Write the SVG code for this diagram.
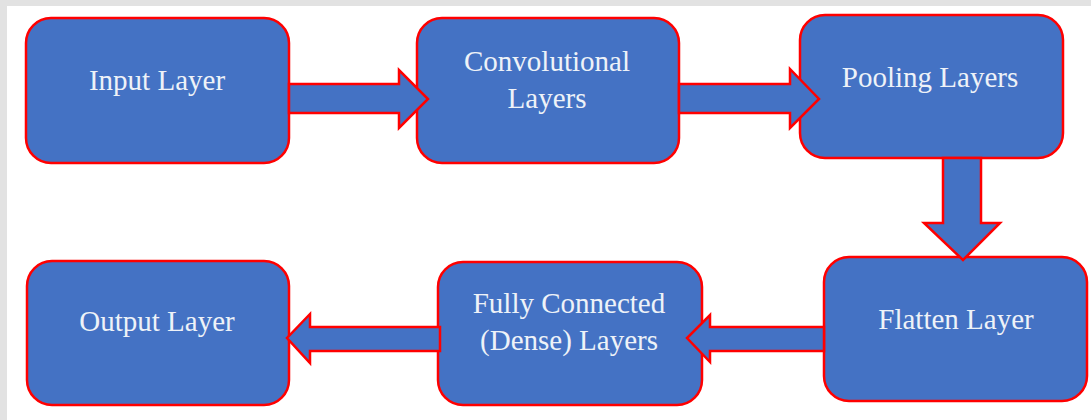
<svg xmlns="http://www.w3.org/2000/svg" width="1091" height="420" viewBox="0 0 1091 420">
<style>
.box{fill:#4472C4;stroke:#FF0000;stroke-width:2.5}
.arr{fill:#4472C4;stroke:#FF0000;stroke-width:2.5;stroke-linejoin:miter}
.lbl{font-family:"Liberation Serif","Times New Roman",serif;font-size:29px;fill:#EEF2F8;text-anchor:middle}
</style>
<rect x="0" y="0" width="1091" height="420" fill="#ffffff"/>
<rect x="0" y="0" width="1091" height="6" fill="#e2e2e2"/>
<rect x="0" y="0" width="7" height="420" fill="#e2e2e2"/>
<g id="input-layer">
<rect class="box" x="26" y="18" width="263" height="145" rx="25"/>
<text class="lbl" x="157" y="90">Input Layer</text>
</g>
<g id="conv-layers">
<rect class="box" x="417" y="18" width="262" height="145" rx="25"/>
<text class="lbl" x="547" y="71">Convolutional</text>
<text class="lbl" x="547" y="108">Layers</text>
</g>
<g id="pooling-layers">
<rect class="box" x="800" y="15" width="263" height="143" rx="25"/>
<text class="lbl" x="930" y="87">Pooling Layers</text>
</g>
<g id="flatten-layer">
<rect class="box" x="824" y="257" width="263" height="144" rx="25"/>
<text class="lbl" x="956" y="329">Flatten Layer</text>
</g>
<g id="dense-layers">
<rect class="box" x="438" y="262" width="264" height="143" rx="25"/>
<text class="lbl" x="569" y="313">Fully Connected</text>
<text class="lbl" x="569" y="350">(Dense) Layers</text>
</g>
<g id="output-layer">
<rect class="box" x="27" y="261" width="262" height="144" rx="25"/>
<text class="lbl" x="157" y="331">Output Layer</text>
</g>
<g id="connectors">
<polygon class="arr" points="289,84 399,84 399,70 428,99 399,128 399,113 289,113"/>
<polygon class="arr" points="679,84 790,84 790,69 819,99 790,128 790,113 679,113"/>
<polygon class="arr" points="943,158 981,158 981,223 1000,223 963,260 924,223 943,223"/>
<polygon class="arr" points="824,327 710,327 710,315 687,338 710,362 710,351 824,351"/>
<polygon class="arr" points="440,327 310,327 310,314 287,338 310,363 310,351 440,351"/>
</g>
</svg>
